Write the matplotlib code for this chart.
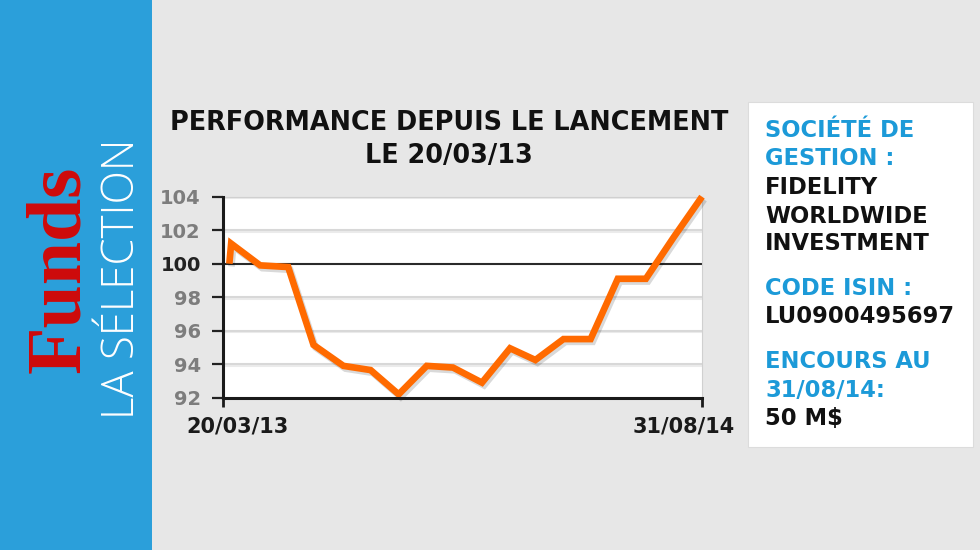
import matplotlib
matplotlib.use("Agg")
import matplotlib.pyplot as plt
import matplotlib.patheffects as pe
from matplotlib.patches import Rectangle
from matplotlib.transforms import ScaledTranslation
import datetime as dt

W, H, DPI = 980, 550, 100

# ---------------- data ----------------
dates = ["2013-03-27", "2013-03-29", "2013-04-30", "2013-05-31", "2013-06-28",
         "2013-07-31", "2013-08-30", "2013-09-30", "2013-10-31", "2013-11-29",
         "2013-12-31", "2014-01-31", "2014-02-28", "2014-03-31", "2014-04-30",
         "2014-05-30", "2014-06-30", "2014-07-31", "2014-08-31"]
values = [100.0, 101.2, 99.9, 99.8, 95.15, 93.9, 93.65, 92.2, 93.9, 93.8,
          92.9, 94.95, 94.25, 95.5, 95.5, 99.1, 99.1, 101.6, 104.0]
y_ticks = [92, 94, 96, 98, 100, 102, 104]
x_tick_dates = ["2013-03-20", "2014-08-31"]
x_tick_labels = ["20/03/13", "31/08/14"]
title_lines = ["PERFORMANCE DEPUIS LE LANCEMENT", "LE 20/03/13"]
info_lines = ["SOCIÉTÉ DE", "GESTION :", "FIDELITY", "WORLDWIDE", "INVESTMENT",
              "CODE ISIN :", "LU0900495697", "ENCOURS AU", "31/08/14:", "50 M$"]
info_is_heading = [True, True, False, False, False, True, False, True, True, False]
brand = "Funds"
brand_sub = "LA SÉLECTION"

# ---------------- colours ----------------
BG = "#e7e7e7"
BLUE_BAND = "#2b9fda"
BLUE_TXT = "#1c9ad8"
ORANGE = "#ff6a00"
RED = "#cf0a0a"

def fx(px):
    return px / W

def fy(py):
    return 1 - py / H

fig = plt.figure(figsize=(W / DPI, H / DPI), dpi=DPI, facecolor=BG)

# left blue band
fig.patches.append(Rectangle((0, 0), fx(152), 1, transform=fig.transFigure,
                             facecolor=BLUE_BAND, edgecolor="none", zorder=0))
fig.text(fx(79), fy(373), brand, rotation=90, rotation_mode="anchor",
         ha="left", va="baseline", color=RED, fontsize=56,
         family="Liberation Serif", fontweight="bold")
fig.text(fx(134), fy(419), brand_sub, rotation=90, rotation_mode="anchor",
         ha="left", va="baseline", color="white", fontsize=31.5,
         family=["Open Sans", "DejaVu Sans"], fontweight="light")

# right info box
fig.patches.append(Rectangle((fx(748), fy(447)), fx(225), (447 - 102) / H,
                             transform=fig.transFigure, facecolor="white",
                             edgecolor="#dcdcdc", lw=0.8, zorder=0))
baselines = [136.7, 165.0, 194.3, 222.7, 250.0, 295.0, 323.3, 368.3, 396.7, 425.0]
for line, head, b in zip(info_lines, info_is_heading, baselines):
    fig.text(fx(765), fy(b), line, ha="left", va="baseline",
             color=BLUE_TXT if head else "#111111", fontsize=16.3,
             family="DejaVu Sans", fontweight="bold")

# title
fig.text(fx(449), fy(130), title_lines[0], ha="center", va="baseline",
         fontsize=18.4, family="DejaVu Sans", fontweight="bold", color="#111111")
fig.text(fx(449), fy(162.7), title_lines[1], ha="center", va="baseline",
         fontsize=18.4, family="DejaVu Sans", fontweight="bold", color="#111111")

# ---------------- chart ----------------
ax = fig.add_axes([fx(223), fy(397.7), (702 - 223) / W, (397.7 - 196.7) / H])
ax.set_facecolor("white")

xd = [dt.datetime.strptime(d, "%Y-%m-%d") for d in dates]
xt = [dt.datetime.strptime(d, "%Y-%m-%d") for d in x_tick_dates]

ax.set_xlim(xt[0], xt[-1])
ax.set_ylim(y_ticks[0], y_ticks[-1])

# grid lines
for v in y_ticks[1:]:
    if v == 100:
        ax.axhline(v, color="#2a2a2a", lw=1.5, zorder=2)
    else:
        ax.axhline(v, color="#d8d8d8", lw=1.5, zorder=1,
                   path_effects=[pe.SimpleLineShadow(offset=(0, -1), alpha=0.08,
                                                     shadow_color="k"), pe.Normal()])

ax.plot(xd, values, color=ORANGE, lw=4.8, solid_joinstyle="miter",
        solid_capstyle="butt", zorder=5, clip_on=False,
        path_effects=[pe.SimpleLineShadow(offset=(1.5, -2), alpha=0.15,
                                          shadow_color="k"), pe.Normal()])

for s in ["top", "right"]:
    ax.spines[s].set_color("#d0d0d0")
    ax.spines[s].set_linewidth(0.8)
for s in ["left", "bottom"]:
    ax.spines[s].set_color("#1a1a1a")
    ax.spines[s].set_linewidth(2.2)
    ax.spines[s].set_zorder(6)

ax.set_yticks(y_ticks)
ax.set_yticklabels([str(v) for v in y_ticks])
ax.tick_params(axis="y", direction="out", length=8, width=1.6, color="#222222",
               pad=8, labelsize=14)
for lab, v in zip(ax.get_yticklabels(), y_ticks):
    lab.set_fontweight("bold")
    lab.set_family("DejaVu Sans")
    lab.set_color("#222222" if v == 100 else "#7d7d7d")

ax.set_xticks(xt)
ax.set_xticklabels(x_tick_labels)
ax.tick_params(axis="x", direction="out", length=6.5, width=2.0, color="#1a1a1a",
               pad=7, labelsize=15, labelcolor="#1a1a1a")
offsets = [15, -18]
for lab, dx in zip(ax.get_xticklabels(), offsets):
    lab.set_fontweight("bold")
    lab.set_family("DejaVu Sans")
    lab.set_transform(lab.get_transform() + ScaledTranslation(dx / DPI, 0, fig.dpi_scale_trans))

fig.savefig("out.png", dpi=DPI, facecolor=BG)
